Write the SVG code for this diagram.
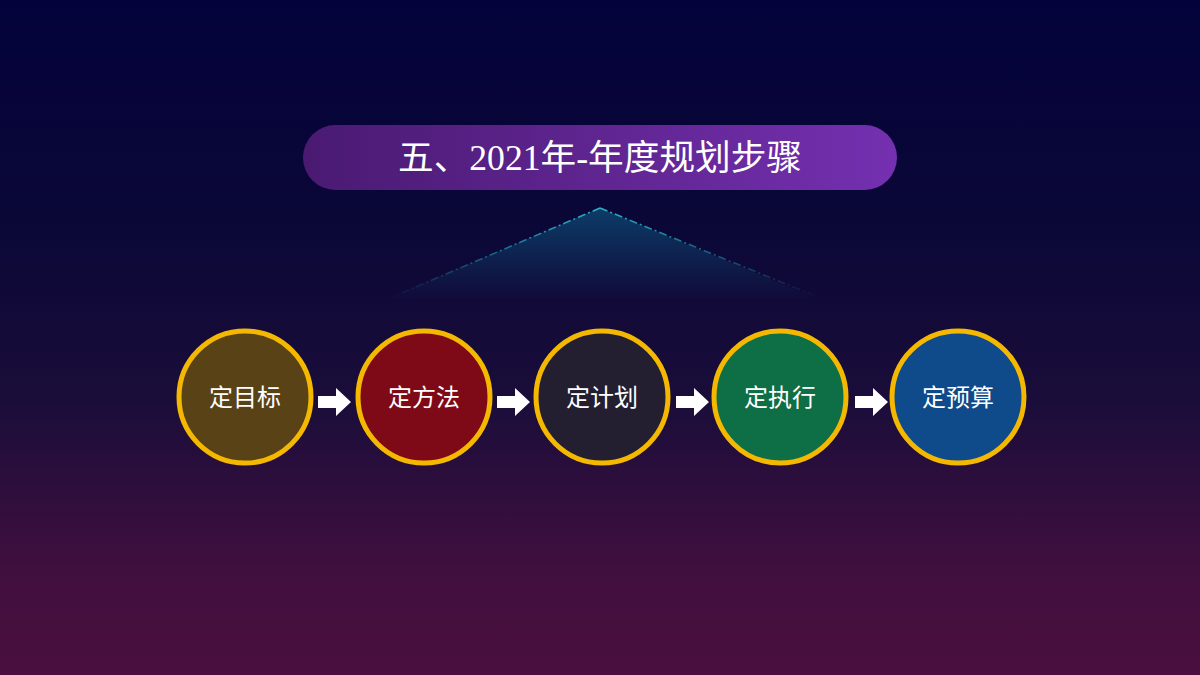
<svg xmlns="http://www.w3.org/2000/svg" width="1200" height="675" viewBox="0 0 1200 675">
<defs>
<linearGradient id="bg" x1="0" y1="0" x2="0" y2="1">
<stop offset="0" stop-color="#03023a"/>
<stop offset="0.35" stop-color="#0b0837"/>
<stop offset="0.6" stop-color="#1b0d3a"/>
<stop offset="0.85" stop-color="#410f3e"/>
<stop offset="1" stop-color="#4a0f3e"/>
</linearGradient>
<linearGradient id="bar" x1="0" y1="0" x2="1" y2="0">
<stop offset="0" stop-color="#4a1a72"/>
<stop offset="1" stop-color="#7430b0"/>
</linearGradient>
<linearGradient id="tri" x1="0" y1="0" x2="0" y2="1">
<stop offset="0" stop-color="#0f4e78" stop-opacity="0.75"/>
<stop offset="1" stop-color="#0f4e78" stop-opacity="0"/>
</linearGradient>
<linearGradient id="edgeL" x1="0" y1="1" x2="1" y2="0">
<stop offset="0" stop-color="#2ab0c8" stop-opacity="0"/>
<stop offset="1" stop-color="#2ab0c8"/>
</linearGradient>
<linearGradient id="edgeR" x1="1" y1="1" x2="0" y2="0">
<stop offset="0" stop-color="#2ab0c8" stop-opacity="0"/>
<stop offset="1" stop-color="#2ab0c8"/>
</linearGradient>
<path id="arr" d="M0,-6 H18 V-14 L33,0 L18,14 V6 H0 Z"/>
</defs>
<style>
.ring{stroke:#f5b800;stroke-width:5}
.lbl{font-family:"Liberation Serif","Noto Sans CJK SC",serif;font-size:24px;fill:#ffffff;text-anchor:middle}
.arrow{fill:#ffffff}
</style>
<rect width="1200" height="675" fill="url(#bg)"/>
<g id="title">
<rect x="303" y="125" width="594" height="65" rx="32.5" fill="url(#bar)"/>
<text x="600" y="170" font-family="Liberation Serif,'Noto Sans CJK SC',serif" font-size="35" fill="#ffffff" text-anchor="middle" textLength="404" lengthAdjust="spacingAndGlyphs">五、2021年-年度规划步骤</text>
</g>
<g id="triangle">
<polygon points="600,208 385,300 820,300" fill="url(#tri)"/>
<line x1="600" y1="208" x2="390" y2="298" stroke="url(#edgeL)" stroke-width="1.6" stroke-dasharray="8,3,2,3"/>
<line x1="600" y1="208" x2="820" y2="298" stroke="url(#edgeR)" stroke-width="1.6" stroke-dasharray="8,3,2,3"/>
</g>
<g id="connectors">
<use href="#arr" class="arrow" x="318" y="402"/>
<use href="#arr" class="arrow" x="497" y="402"/>
<use href="#arr" class="arrow" x="676" y="402"/>
<use href="#arr" class="arrow" x="855" y="402"/>
</g>
<g id="n1"><circle class="ring" cx="245" cy="397" r="66" fill="#5a4217"/><text class="lbl" x="245" y="406">定目标</text></g>
<g id="n2"><circle class="ring" cx="424" cy="397" r="66" fill="#7f0a17"/><text class="lbl" x="424" y="406">定方法</text></g>
<g id="n3"><circle class="ring" cx="602" cy="397" r="66" fill="#231e30"/><text class="lbl" x="602" y="406">定计划</text></g>
<g id="n4"><circle class="ring" cx="780" cy="397" r="66" fill="#0e6e46"/><text class="lbl" x="780" y="406">定执行</text></g>
<g id="n5"><circle class="ring" cx="958" cy="397" r="66" fill="#0f4a8a"/><text class="lbl" x="958" y="406">定预算</text></g>
</svg>
